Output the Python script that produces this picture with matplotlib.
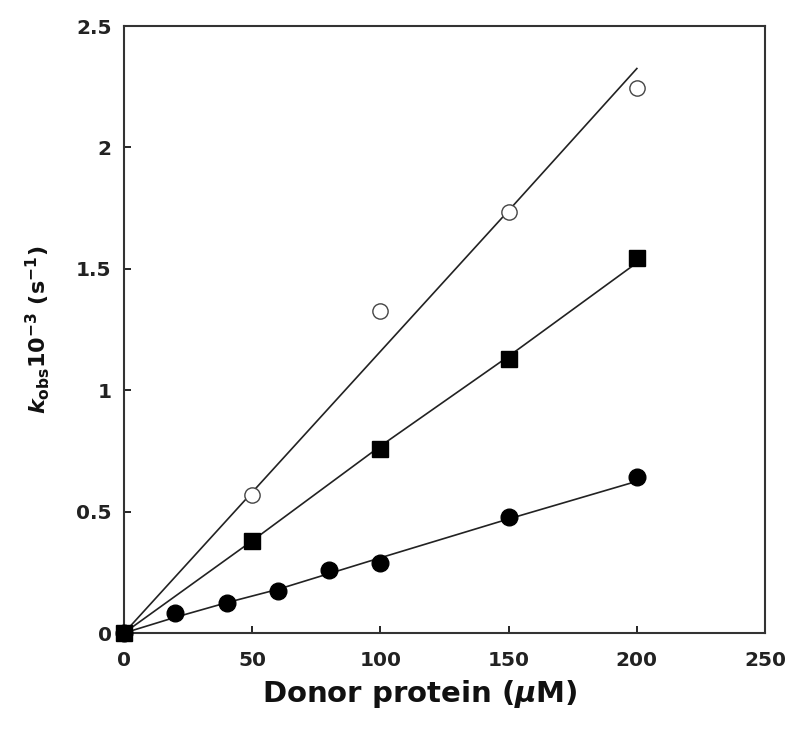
import matplotlib
matplotlib.use("Agg")
import matplotlib.pyplot as plt

# data points
x_open = [50, 100, 150, 200]
y_open = [0.57, 1.325, 1.735, 2.245]

x_square = [0, 50, 100, 150, 200]
y_square = [0.0, 0.38, 0.76, 1.13, 1.545]

x_filled = [0, 20, 40, 60, 80, 100, 150, 200]
y_filled = [0.0, 0.082, 0.123, 0.175, 0.26, 0.29, 0.478, 0.643]

# fitted lines
fit_x_open = [0, 50, 100, 150, 200]
fit_y_open = [0.0, 0.58, 1.16, 1.74, 2.325]
fit_x_square = [0, 50, 100, 150, 200]
fit_y_square = [0.0, 0.38, 0.77, 1.14, 1.525]
fit_x_filled = [0, 20, 40, 60, 80, 100, 150, 200]
fit_y_filled = [0.0, 0.065, 0.125, 0.18, 0.245, 0.31, 0.47, 0.625]

xticks = [0, 50, 100, 150, 200, 250]
yticks = [0, 0.5, 1, 1.5, 2, 2.5]
ytick_labels = ["0", "0.5", "1", "1.5", "2", "2.5"]

plt.rcParams['font.family'] = ['DejaVu Sans']
plt.rcParams['mathtext.fontset'] = 'custom'
plt.rcParams['mathtext.rm'] = 'DejaVu Sans:bold'
plt.rcParams['mathtext.it'] = 'DejaVu Sans:bold:italic'
plt.rcParams['mathtext.bf'] = 'DejaVu Sans:bold'

fig = plt.figure(figsize=(7.92, 7.31), dpi=100)
ax = fig.add_axes([0.1566, 0.134, 0.8094, 0.8304])

lc = '#222222'
ax.plot(fit_x_open, fit_y_open, color=lc, lw=1.2, zorder=2)
ax.plot(fit_x_square, fit_y_square, color=lc, lw=1.2, zorder=2)
ax.plot(fit_x_filled, fit_y_filled, color=lc, lw=1.2, zorder=2)

ax.plot(x_open, y_open, 'o', ms=11, mfc='white', mec='#444444', mew=1.0, ls='none', zorder=3, clip_on=False)
ax.plot(x_filled, y_filled, 'o', ms=12, mfc='black', mec='black', ls='none', zorder=3, clip_on=False)
ax.plot(x_square, y_square, 's', ms=11.5, mfc='black', mec='black', ls='none', zorder=4, clip_on=False)

ax.set_xlim(0, 250)
ax.set_ylim(0, 2.5)
ax.set_xticks(xticks)
ax.set_xticklabels([str(t) for t in xticks])
ax.set_yticks(yticks)
ax.set_yticklabels(ytick_labels)
ax.tick_params(direction='in', length=5, width=1.2, labelsize=14.5, top=False, right=False)
ax.tick_params(axis='x', pad=13)
ax.tick_params(axis='y', pad=9)
for lab in ax.get_xticklabels() + ax.get_yticklabels():
    lab.set_fontweight('bold')
    lab.set_color('#222222')
for s in ax.spines.values():
    s.set_linewidth(1.5)
    s.set_color('#333333')

ax.set_xlabel(r"Donor protein ($\mu$M)", fontsize=21, fontweight='bold', labelpad=6, color='#111111')
ax.xaxis.label.set_x(0.462)
ax.set_ylabel(r"$k_{\mathrm{obs}}\mathrm{10^{-3}\ (s^{-1})}$", fontsize=16, labelpad=17, color='#111111')

fig.savefig("out.png", dpi=100)
